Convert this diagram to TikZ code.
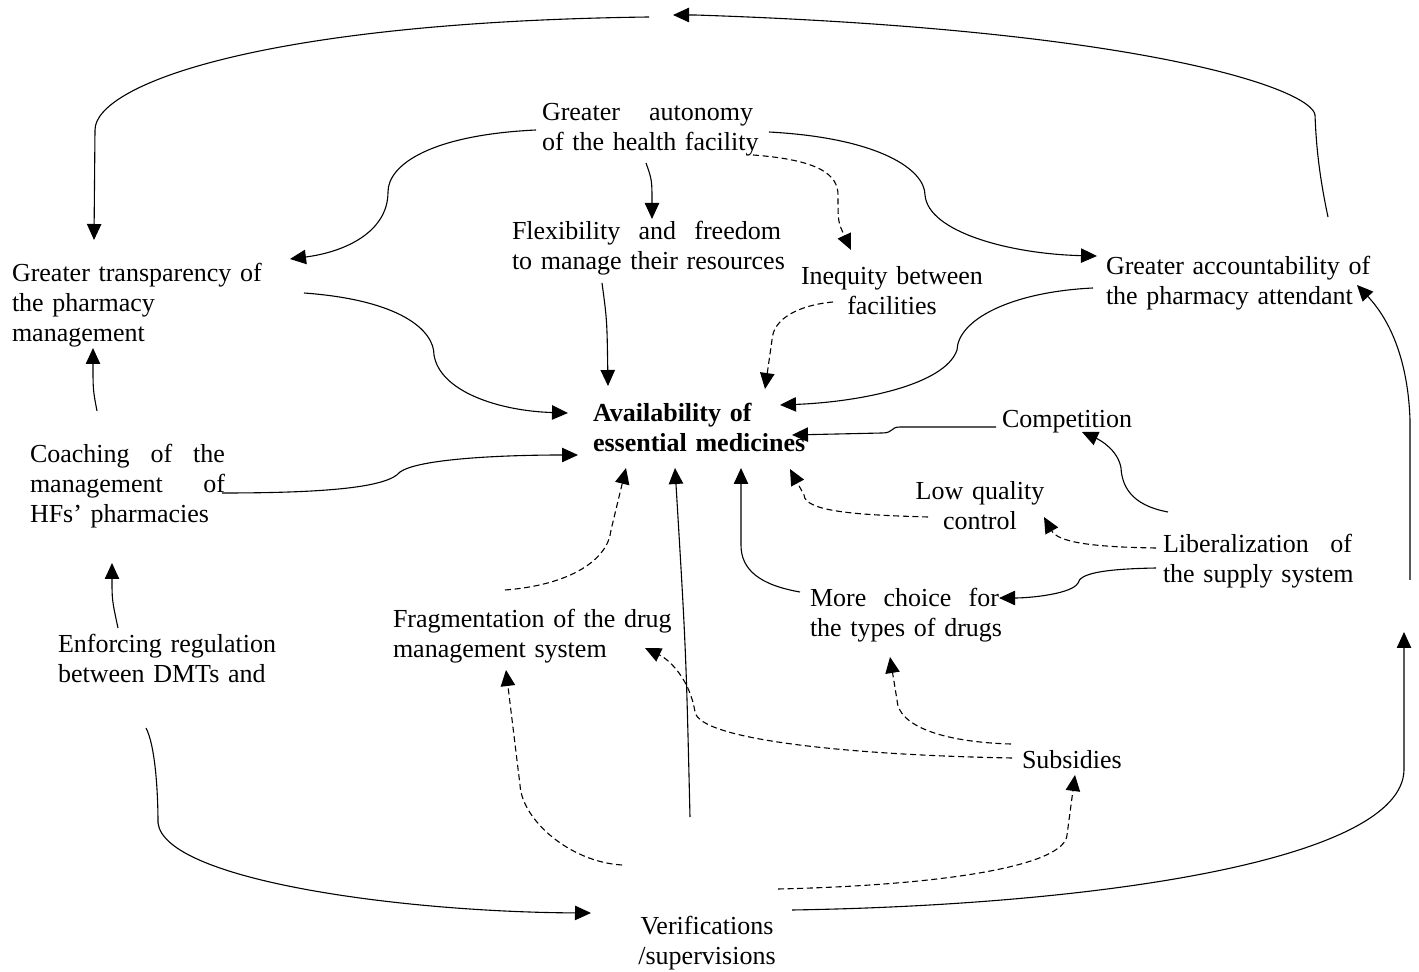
\documentclass[tikz,border=0pt]{standalone}
\usepackage{fontspec}
\setmainfont{Liberation Serif}
\usetikzlibrary{arrows.meta}
% a line spread out to a given width, words separated by \hfill
\newcommand\spreadline[2]{\makebox[#1][s]{#2}}
\begin{document}
\begin{tikzpicture}[x=0.5pt,y=-0.5pt,
  txt/.style={inner sep=0pt, outer sep=0pt, font=\fontsize{13}{15}\selectfont},
  lft/.style={txt, anchor=base west, text width=#1, align=left},
  ctr/.style={txt, anchor=base, text width=#1, align=center},
  link/.style={line width=0.55pt, -{Triangle[length=8pt,width=7.2pt]}},
  weak/.style={link, dash pattern=on 3pt off 1.8pt}
]
\useasboundingbox (0,0) rectangle (1419,972);

% ---------- factors ----------
\node[lft=130pt] (autonomy) at (542,121)
  {\spreadline{105.5pt}{Greater\hfill autonomy}\\of the health facility};
\node[lft=160pt] (flex) at (512,240)
  {\spreadline{134.5pt}{Flexibility\hfill and\hfill freedom}\\to manage their resources};
\node[ctr=120pt] (ineq) at (892,285) {Inequity between\\facilities};
\node[lft=160pt] (acc) at (1106,275) {Greater accountability of\\the pharmacy attendant};
\node[lft=150pt] (trans) at (12,282) {Greater transparency of\\the pharmacy\\management};
\node[lft=130pt, font=\fontsize{13}{15}\selectfont\bfseries] (avail) at (593,422)
  {Availability of\\essential medicines};
\node[txt, anchor=base west] (comp) at (1002,428) {Competition};
\node[ctr=100pt] (low) at (980,500) {Low quality\\control};
\node[lft=120pt] (coach) at (30,463)
  {\spreadline{97.5pt}{Coaching\hfill of\hfill the}\\\spreadline{97.5pt}{management\hfill of}\\HFs’ pharmacies};
\node[lft=120pt] (lib) at (1163,553)
  {\spreadline{94.5pt}{Liberalization\hfill of}\\the supply system};
\node[lft=120pt] (choice) at (810,607)
  {\spreadline{94.5pt}{More\hfill choice\hfill for}\\the types of drugs};
\node[lft=160pt] (frag) at (393,628) {Fragmentation of the drug\\management system};
\node[lft=140pt] (enf) at (58,653) {Enforcing regulation\\between DMTs and};
\node[txt, anchor=base west] (sub) at (1022,768) {Subsidies};
\node[ctr=100pt] (ver) at (707,934) {Verifications\\/supervisions};

% ---------- connector ends ----------
\coordinate (accUp) at (1328,217);   \coordinate (topHead) at (673,15);
\coordinate (topTail) at (649,17);   \coordinate (transIn) at (94,240);
\coordinate (autW) at (536,130);     \coordinate (transNE) at (290,259);
\coordinate (autS) at (646,163);     \coordinate (flexN) at (652,219);
\coordinate (autSE) at (753,155);    \coordinate (ineqN) at (851,250);
\coordinate (autE) at (769,132);     \coordinate (accW) at (1097,256);
\coordinate (flexS) at (602,283);    \coordinate (availN) at (608,386);
\coordinate (transE) at (304,293);   \coordinate (availW) at (568,413);
\coordinate (ineqSW) at (833,302);   \coordinate (availNE) at (765,389);
\coordinate (accSW) at (1093,288);   \coordinate (availE) at (780,405);
\coordinate (compW) at (996,427);    \coordinate (availE2) at (792,435);
\coordinate (libNW) at (1168,512);   \coordinate (compS) at (1082,432);
\coordinate (lowW) at (928,517);     \coordinate (availSE) at (790,469);
\coordinate (libW) at (1156,548);    \coordinate (lowE) at (1044,517);
\coordinate (libW2) at (1156,568);   \coordinate (choiceE) at (999,598);
\coordinate (choiceW) at (800,592);  \coordinate (availS) at (741,468);
\coordinate (coachN) at (97,411);    \coordinate (transS) at (93,348);
\coordinate (coachE) at (222,493);   \coordinate (availW2) at (578,455);
\coordinate (fragN) at (505,590);    \coordinate (availSW) at (626,468);
\coordinate (enfN) at (118,628);     \coordinate (coachS) at (112,563);
\coordinate (enfS) at (146,728);     \coordinate (verW) at (591,913);
\coordinate (verNW) at (622,865);    \coordinate (fragS) at (506,670);
\coordinate (verN) at (690,817);     \coordinate (availS2) at (675,468);
\coordinate (subW) at (1012,758);    \coordinate (fragE) at (645,648);
\coordinate (subNW) at (1011,744);   \coordinate (choiceS) at (890,657);
\coordinate (verNE) at (778,889);    \coordinate (subS) at (1075,775);
\coordinate (verE) at (792,910);     \coordinate (rightHead) at (1404,632);
\coordinate (rightTail) at (1410,580); \coordinate (accSE) at (1357,285);

% ---------- outer loop ----------
\draw[link] (accUp) .. controls (1318,170) and (1316,140) .. (1315,115)
  .. controls (1312,90) and (1150,30) .. (695,15) -- (topHead);
\draw[link] (topTail) .. controls (260,22) and (95,85) .. (95,130) -- (transIn);

% ---------- from autonomy ----------
\draw[link] (autW) .. controls (430,135) and (388,165) .. (388,192)
  .. controls (388,232) and (345,252) .. (transNE);
\draw[link] (autS) .. controls (652,180) .. (flexN);
\draw[weak] (autSE) .. controls (820,160) and (838,175) .. (838,195)
  .. controls (838,222) .. (ineqN);
\draw[link] (autE) .. controls (880,138) and (925,170) .. (925,195)
  .. controls (928,232) and (1010,254) .. (accW);

% ---------- into availability ----------
\draw[link] (flexS) .. controls (607,320) .. (availN);
\draw[link] (transE) .. controls (400,300) and (434,330) .. (434,355)
  .. controls (440,392) and (500,411) .. (availW);
\draw[weak] (ineqSW) .. controls (800,305) and (773,318) .. (772,340) -- (availNE);
\draw[link] (accSW) .. controls (1010,292) and (958,320) .. (957,350)
  .. controls (945,385) and (860,402) .. (availE);
\draw[link] (compW) -- (900,427) .. controls (890,427) and (894,433) .. (882,433) -- (availE2);
\draw[weak] (lowW) .. controls (860,515) and (805,512) .. (804,495) -- (availSE);
\draw[link] (choiceW) .. controls (760,585) and (741,570) .. (741,545) -- (availS);
\draw[link] (coachE) .. controls (330,493) and (388,487) .. (400,472)
  .. controls (418,459) and (500,455) .. (availW2);
\draw[weak] (fragN) .. controls (570,585) and (608,560) .. (611,530) -- (availSW);
\draw[link] (verN) .. controls (686,650) .. (availS2);

% ---------- liberalization ----------
\draw[link] (libNW) .. controls (1130,505) and (1122,485) .. (1121,468)
  .. controls (1118,450) and (1100,440) .. (compS);
\draw[weak] (libW) .. controls (1090,547) and (1058,542) .. (lowE);
\draw[link] (libW2) .. controls (1100,569) and (1080,574) .. (1078,583)
  .. controls (1072,594) and (1030,598) .. (choiceE);

% ---------- left column ----------
\draw[link] (coachN) .. controls (93,390) .. (transS);
\draw[link] (enfN) .. controls (112,600) .. (coachS);
\draw[link] (enfS) .. controls (155,745) and (158,790) .. (158,823)
  .. controls (165,880) and (400,912) .. (verW);

% ---------- bottom ----------
\draw[weak] (verNW) .. controls (570,862) and (522,820) .. (520,785) -- (fragS);
\draw[weak] (subW) .. controls (850,755) and (700,740) .. (695,712)
  .. controls (690,680) and (670,660) .. (fragE);
\draw[weak] (subNW) .. controls (940,742) and (898,725) .. (897,700) -- (choiceS);
\draw[weak] (verNE) .. controls (950,885) and (1065,865) .. (1067,835) -- (subS);
\draw[link] (verE) .. controls (1100,905) and (1402,860) .. (1404,770) -- (rightHead);
\draw[link] (rightTail) -- (1410,420) .. controls (1408,360) and (1390,320) .. (accSE);
\end{tikzpicture}
\end{document}
